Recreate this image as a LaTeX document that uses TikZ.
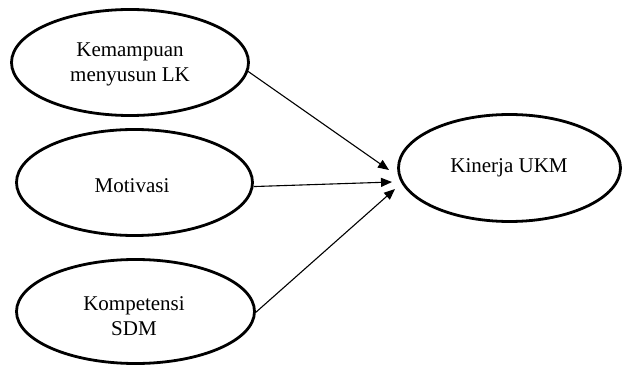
\documentclass[tikz,border=0pt]{standalone}
\usepackage{fontspec}
\setmainfont{Liberation Serif}
\usetikzlibrary{shapes.geometric,arrows.meta}
\begin{document}
\begin{tikzpicture}[x=1pt,y=-1pt,
  oval/.style={draw=black,ellipse,line width=2.8pt,inner sep=0pt,outer sep=0pt},
  lbl/.style={font=\fontsize{21}{25}\selectfont,align=center,inner sep=0pt,text=black},
  conn/.style={line width=1.1pt,-{Triangle[length=11pt,width=9pt]}}]
\useasboundingbox (0,0) rectangle (622,366);
\node[oval,minimum width=237pt,minimum height=106pt] (e1) at (130,62.5) {};
\node[oval,minimum width=236pt,minimum height=106pt] (e2) at (134.5,182.5) {};
\node[oval,minimum width=238pt,minimum height=104pt] (e3) at (135.5,311.5) {};
\node[oval,minimum width=222pt,minimum height=107pt] (e4) at (509.5,168) {};
\node[lbl] (t1) at (130,64) {Kemampuan\\menyusun LK};
\node[lbl] (t2) at (132,186) {Motivasi};
\node[lbl] (t3) at (134,316) {Kompetensi\\SDM};
\node[lbl] (t4) at (509,168) {Kinerja UKM};
\coordinate (p1) at (389,170);
\coordinate (p2) at (392,182);
\coordinate (p3) at (395,189);
\draw[conn] (e1.-4.6) -- (p1);
\draw[conn,shorten <=1.5pt] (e2.-2) -- (p2);
\draw[conn,shorten <=1.5pt] (e3.-1) -- (p3);
\end{tikzpicture}
\end{document}
